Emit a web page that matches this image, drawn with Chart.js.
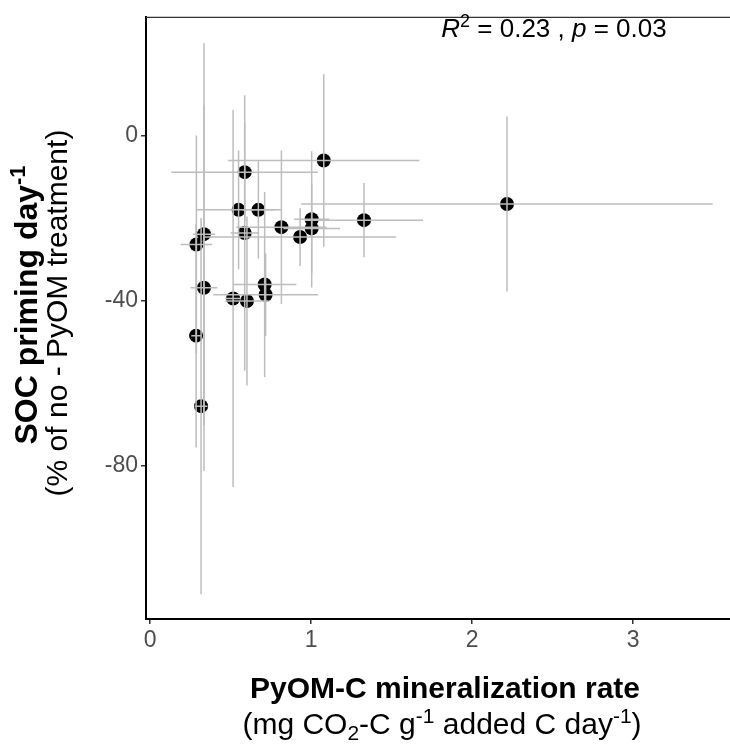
<!DOCTYPE html>
<html>
<head>
<meta charset="utf-8">
<script src="https://cdn.jsdelivr.net/npm/chart.js@4.4.1/dist/chart.umd.min.js"></script>
<style>
  body { margin: 0; background: #ffffff; }
  #conteneur { width: 730px; height: 744px; }
</style>
</head>
<body>
<div id="conteneur"><canvas id="graphique" width="730" height="744"></canvas></div>
<script>
// Taux de minéralisation du PyOM-C (axe x)
const mineralisation = [1.079, 0.588, 2.217, 0.550, 0.673, 1.004, 1.329, 0.816, 1.004, 0.932,
  0.588, 0.335, 0.288, 0.335, 0.712, 0.718, 0.516, 0.602, 0.286, 0.317];
// Amorçage du SOC par jour (axe y)
const amorcage = [-5.95, -8.76, -16.5, -17.9, -17.9, -20.2, -20.4, -22.1, -22.4, -24.5,
  -23.5, -23.8, -26.3, -36.8, -36.0, -38.5, -39.4, -40.0, -48.4, -65.5];
// Barres d'erreur (demi-largeur)
const erreurX = [0.594, 0.455, 1.278, 0.265, 0.10, 0.109, 0.366, 0.28, 0.176, 0.596,
  0.087, 0.07, 0.098, 0.083, 0.197, 0.325, 0.05, 0.135, 0.03, 0.04];
const erreurY = [20.9, 12.0, 21.2, 14.4, 11.8, 16.5, 9.0, 18.6, 10.8, 7.0,
  33.4, 46.3, 26.4, 44.4, 22.4, 10.0, 45.7, 20.5, 27.1, 45.6];
// Graduations des axes
const graduationsX = [0, 1, 2, 3];
const graduationsY = [0, -40, -80];

const police = "'Liberation Sans', Arial, Helvetica, sans-serif";

// Dessine une suite de morceaux de texte (indices, exposants) centrés sur cx
function dessinerMorceaux(ctx, morceaux, cx, ligne) {
  let largeur = 0;
  for (const m of morceaux) {
    ctx.font = (m.italique ? "italic " : "") + (m.gras ? "bold " : "") + m.taille + "px " + police;
    m.largeur = ctx.measureText(m.texte).width;
    largeur += m.largeur;
  }
  let x = cx - largeur / 2;
  for (const m of morceaux) {
    ctx.font = (m.italique ? "italic " : "") + (m.gras ? "bold " : "") + m.taille + "px " + police;
    ctx.fillText(m.texte, x, ligne + (m.decalage || 0));
    x += m.largeur;
  }
}

// Barres d'erreur grises dessinées par-dessus les points
const barresErreur = {
  id: "barresErreur",
  afterDatasetsDraw(chart) {
    const ctx = chart.ctx;
    const echX = chart.scales.x;
    const echY = chart.scales.y;
    ctx.save();
    ctx.strokeStyle = "#bdbdbd";
    ctx.lineWidth = 1.5;
    for (let i = 0; i < mineralisation.length; i++) {
      const px = echX.getPixelForValue(mineralisation[i]);
      const py = echY.getPixelForValue(amorcage[i]);
      ctx.beginPath();
      ctx.moveTo(echX.getPixelForValue(mineralisation[i] - erreurX[i]), py);
      ctx.lineTo(echX.getPixelForValue(mineralisation[i] + erreurX[i]), py);
      ctx.moveTo(px, echY.getPixelForValue(amorcage[i] + erreurY[i]));
      ctx.lineTo(px, echY.getPixelForValue(amorcage[i] - erreurY[i]));
      ctx.stroke();
    }
    ctx.restore();
  }
};

// Titres des axes, cadre du haut et annotation R²
const habillage = {
  id: "habillage",
  afterDraw(chart) {
    const ctx = chart.ctx;
    const zone = chart.chartArea;
    ctx.save();
    // ligne du haut du cadre
    ctx.strokeStyle = "#333333";
    ctx.lineWidth = 1.2;
    ctx.beginPath();
    ctx.moveTo(zone.left, zone.top + 0.5);
    ctx.lineTo(zone.right, zone.top + 0.5);
    ctx.stroke();

    ctx.fillStyle = "#000000";
    ctx.textBaseline = "alphabetic";
    // annotation
    dessinerMorceaux(ctx, [
      { texte: "R", taille: 26, italique: true },
      { texte: "2", taille: 18, decalage: -10 },
      { texte: " = 0.23 , ", taille: 26 },
      { texte: "p", taille: 26, italique: true },
      { texte: " = 0.03", taille: 26 }
    ], 554, 37);

    // titre de l'axe x
    dessinerMorceaux(ctx, [
      { texte: "PyOM-C mineralization rate", taille: 30, gras: true }
    ], 445, 698);
    dessinerMorceaux(ctx, [
      { texte: "(mg CO", taille: 30 },
      { texte: "2", taille: 21, decalage: 6 },
      { texte: "-C g", taille: 30 },
      { texte: "-1", taille: 21, decalage: -11 },
      { texte: " added C day", taille: 30 },
      { texte: "-1", taille: 21, decalage: -11 },
      { texte: ")", taille: 30 }
    ], 442, 734);

    // titre de l'axe y (tourné)
    ctx.translate(37, 0);
    ctx.rotate(-Math.PI / 2);
    dessinerMorceaux(ctx, [
      { texte: "SOC priming day", taille: 32, gras: true },
      { texte: "-1", taille: 22, decalage: -12, gras: true }
    ], -305, 0);
    dessinerMorceaux(ctx, [
      { texte: "(% of no - PyOM treatment)", taille: 30 }
    ], -313, 30);
    ctx.restore();
  }
};

const points = mineralisation.map((v, i) => ({ x: v, y: amorcage[i] }));

const config = {
  type: "scatter",
  data: {
    datasets: [{
      data: points,
      backgroundColor: "#000000",
      borderWidth: 0,
      pointRadius: 7
    }]
  },
  options: {
    responsive: false,
    animation: false,
    events: [],
    layout: { autoPadding: false, padding: { top: 13, left: 0, right: 0, bottom: 0 } },
    plugins: { legend: { display: false }, tooltip: { enabled: false } },
    scales: {
      x: {
        type: "linear",
        min: -0.025,
        max: 3.602,
        afterBuildTicks: (echelle) => { echelle.ticks = graduationsX.map(v => ({ value: v })); },
        afterFit: (echelle) => { echelle.height = 125; },
        grid: { display: true, drawOnChartArea: false, tickLength: 5, tickColor: "#333333", lineWidth: 1.5 },
        border: { display: true, color: "#000000", width: 2 },
        ticks: { color: "#4d4d4d", padding: 3, font: { family: police, size: 23 } }
      },
      y: {
        type: "linear",
        min: -117.1,
        max: 28.9,
        afterBuildTicks: (echelle) => { echelle.ticks = graduationsY.map(v => ({ value: v })); },
        afterFit: (echelle) => { echelle.width = 146; },
        grid: { display: true, drawOnChartArea: false, tickLength: 5, tickColor: "#333333", lineWidth: 1.5 },
        border: { display: true, color: "#000000", width: 2 },
        ticks: { color: "#4d4d4d", padding: 3, font: { family: police, size: 23 } }
      }
    }
  },
  plugins: [barresErreur, habillage]
};

new Chart(document.querySelector("#graphique"), config);
</script>
</body>
</html>
